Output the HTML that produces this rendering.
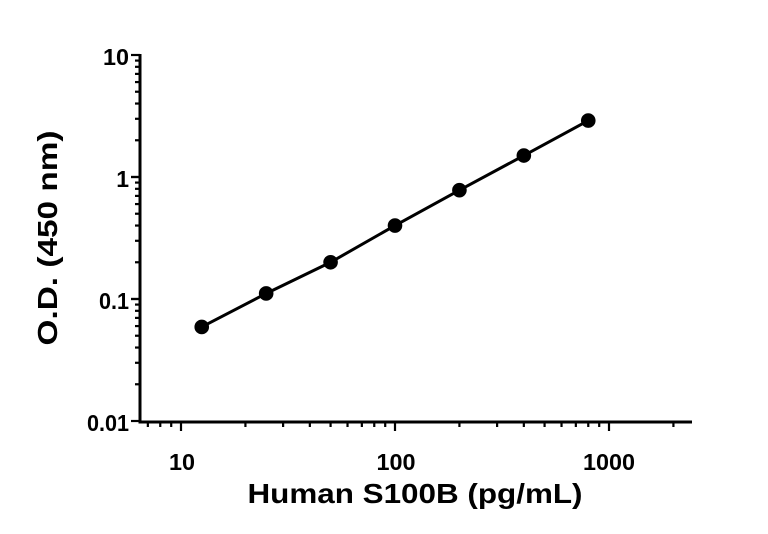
<!DOCTYPE html>
<html><head><style>body{margin:0;background:#fff}svg{display:block}text{font-family:"Liberation Sans",sans-serif;font-weight:bold;fill:#000}</style></head>
<body>
<svg width="768" height="534" viewBox="0 0 768 534" xmlns="http://www.w3.org/2000/svg">
<g stroke="#000" stroke-width="3" fill="none">
<line x1="140" y1="54" x2="140" y2="423"/>
<line x1="138.5" y1="422" x2="692" y2="422"/>
</g>
<g stroke="#000" stroke-width="2.2" id="yt"></g>
<g stroke="#000" stroke-width="2.2" id="xt"></g>
<g style="font-size:23px" text-anchor="end">
<text x="129" y="65" textLength="26" lengthAdjust="spacingAndGlyphs">10</text>
<text x="129" y="187">1</text>
<text x="129" y="309" textLength="30" lengthAdjust="spacingAndGlyphs">0.1</text>
<text x="129" y="431" textLength="42" lengthAdjust="spacingAndGlyphs">0.01</text>
</g>
<g style="font-size:23px" text-anchor="middle">
<text x="182" y="470" textLength="26" lengthAdjust="spacingAndGlyphs">10</text>
<text x="396" y="470" textLength="39" lengthAdjust="spacingAndGlyphs">100</text>
<text x="609" y="470" textLength="52" lengthAdjust="spacingAndGlyphs">1000</text>
</g>
<text x="415" y="503" style="font-size:28px" text-anchor="middle" textLength="335" lengthAdjust="spacingAndGlyphs">Human S100B (pg/mL)</text>
<text transform="translate(57,238) rotate(-90)" style="font-size:28px" text-anchor="middle" textLength="215" lengthAdjust="spacingAndGlyphs">O.D. (450 nm)</text>
<polyline id="ln" fill="none" stroke="#000" stroke-width="3"/>
<g id="pts"></g>
<script>
var ns="http://www.w3.org/2000/svg";
function X(v){return 181+214*Math.log10(v/10);}
function Y(v){return 55+122*(1-Math.log10(v));}
var yt=document.getElementById('yt');
for(var d=-2;d<1;d++)for(var m=1;m<=10;m++){var v=m*Math.pow(10,d);var y=Y(v);var l=document.createElementNS(ns,'line');var len=(m==1||m==10)?9:5;l.setAttribute('x1',140-len);l.setAttribute('x2',140);l.setAttribute('y1',y);l.setAttribute('y2',y);yt.appendChild(l);}
var xt=document.getElementById('xt');
for(var d=0;d<4;d++)for(var m=1;m<10;m++){var v=m*Math.pow(10,d);var x=X(v);if(x<141||x>692)continue;var l=document.createElementNS(ns,'line');var len=(m==1)?9:5;l.setAttribute('x1',x);l.setAttribute('x2',x);l.setAttribute('y1',422);l.setAttribute('y2',422+len);xt.appendChild(l);}
var xs=[12.5,25,50,100,200,400,800],ys=[0.059,0.111,0.2,0.4,0.78,1.5,2.9];
var g=document.getElementById('pts'),p=[];
for(var i=0;i<7;i++){var c=document.createElementNS(ns,'circle');c.setAttribute('cx',X(xs[i]));c.setAttribute('cy',Y(ys[i]));c.setAttribute('r',7.3);g.appendChild(c);p.push(X(xs[i])+','+Y(ys[i]));}
document.getElementById('ln').setAttribute('points',p.join(' '));
</script>
</svg>
</body></html>
